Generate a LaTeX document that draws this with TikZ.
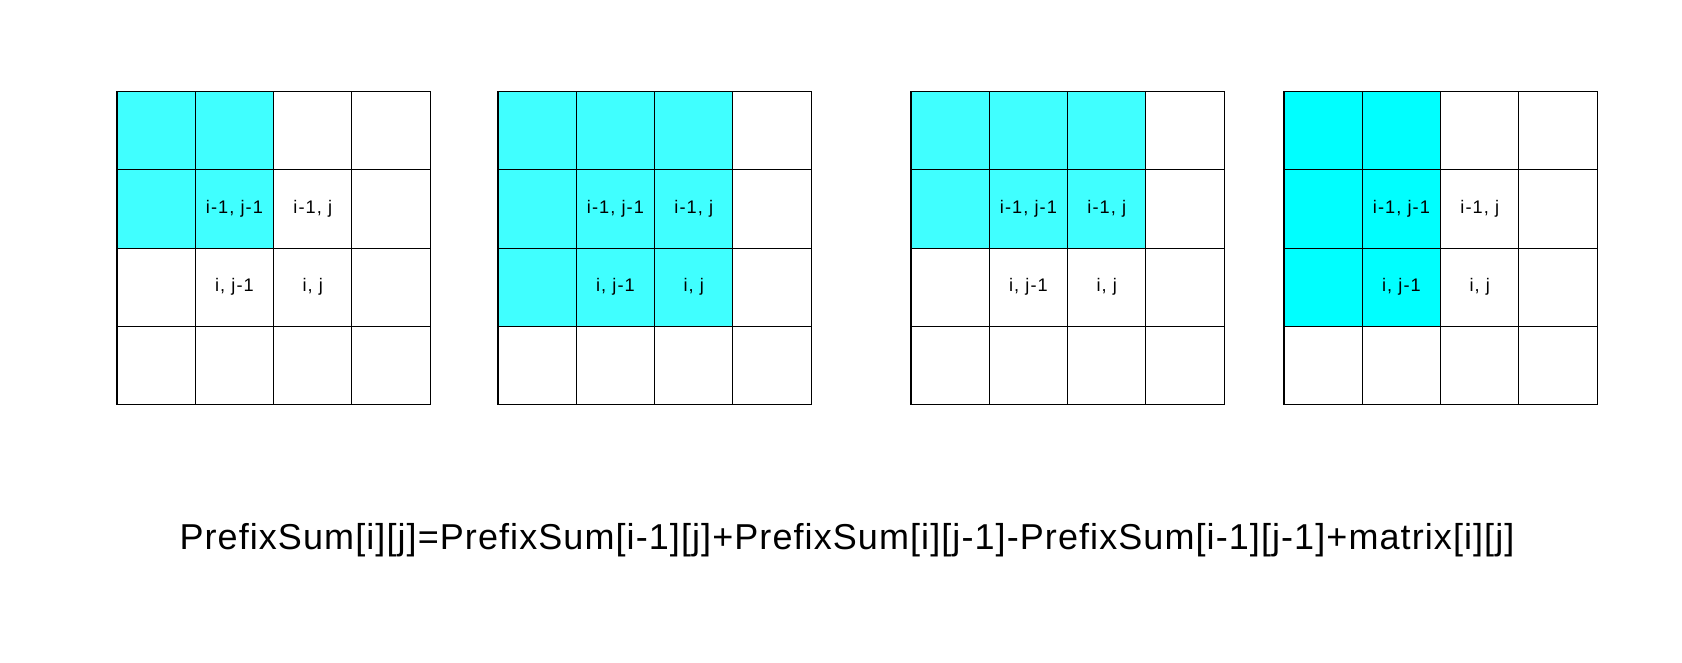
\documentclass[tikz,border=0pt]{standalone}
\usepackage{fontspec}
\usepackage{tikz}
\usetikzlibrary{positioning}
\newfontfamily\cellfont[LetterSpace=6]{Liberation Sans}
\newfontfamily\rulefont[LetterSpace=3]{Liberation Sans}
\definecolor{lightcyan}{RGB}{64,255,255}
\definecolor{fullcyan}{RGB}{0,255,255}

\begin{document}
\begin{tikzpicture}
    [
        x=1pt, y=-1pt,
        cell/.style = {
            rectangle, draw=black, line width=1.1pt, minimum size=78.3pt, inner sep=0pt
            },
        tag/.style = {
            inner sep=0pt, font=\cellfont\fontsize{18.2}{21}\selectfont
            },
        formula/.style = {
            inner sep=0pt, anchor=base, font=\rulefont\fontsize{36}{43}\selectfont
            },
    ]
    \useasboundingbox (0,0) rectangle (1682,662);
    %grids: left edge / shaded rows / shaded cols / colour
    \foreach \g/\ox/\rows/\cols/\col in {1/117/1/1/lightcyan, 2/498/2/2/lightcyan, 3/911/1/2/lightcyan, 4/1284/2/1/fullcyan}
    {
        \foreach \r in {0,...,3}
        {
            \foreach \c in {0,...,3}
            {
                \ifnum\r>\rows \def\shade{white}\else\ifnum\c>\cols \def\shade{white}\else\def\shade{\col}\fi\fi
                \node[cell, fill=\shade] (g\g-\r\c) at (\ox+78.3*\c+39.15, 91.5+78.3*\r+39.15) {};
            }
        }
        %labels
        \node[tag] (g\g-t11) at (g\g-11) {i-1, j-1};
        \node[tag] (g\g-t12) at (g\g-12) {i-1, j};
        \node[tag] (g\g-t21) at (g\g-21) {i, j-1};
        \node[tag] (g\g-t22) at (g\g-22) {i, j};
    }
    %formula
    \node[formula] (rule) at (847,549.3) {PrefixSum[i][j]=PrefixSum[i-1][j]+PrefixSum[i][j-1]-PrefixSum[i-1][j-1]+matrix[i][j]};

\end{tikzpicture}
\end{document}
